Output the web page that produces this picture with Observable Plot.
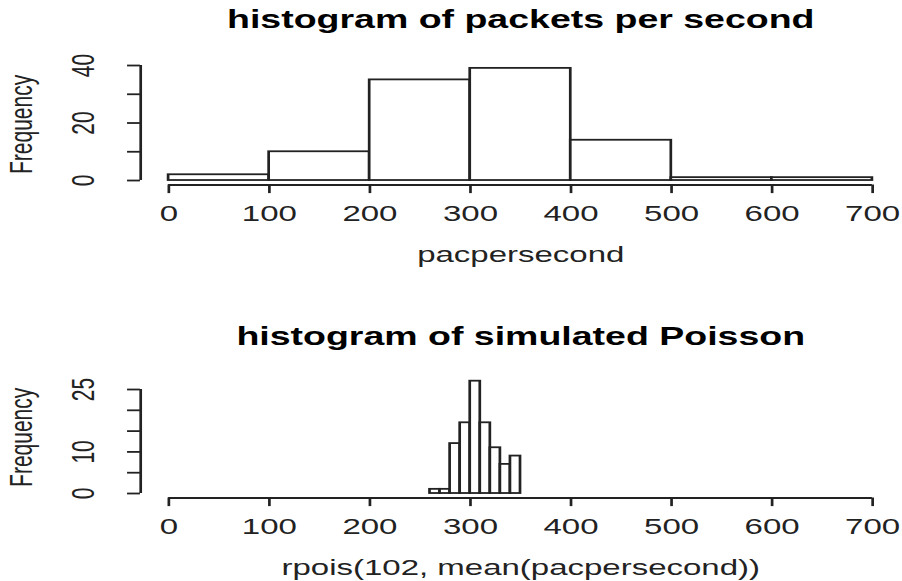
<!DOCTYPE html>
<html>
<head>
<meta charset="utf-8">
<script src="https://cdn.jsdelivr.net/npm/d3@7"></script>
<script src="https://cdn.jsdelivr.net/npm/@observablehq/plot@0.6"></script>
<style>
  html, body { margin: 0; padding: 0; background: #fff; }
  #chart svg { display: block; }
</style>
</head>
<body>
<div id="chart"></div>
<script>
// ---- data ----
const topTitle = "histogram of packets per second";
const topXLabel = "pacpersecond";
const topBreaks = [0, 100, 200, 300, 400, 500, 600, 700];
const topCounts = [2, 10, 35, 39, 14, 1, 1];
const topYTicks = [0, 10, 20, 30, 40];
const topYLabels = [0, 20, 40];

const simTitle = "histogram of simulated Poisson";
const simXLabel = "rpois(102, mean(pacpersecond))";
const simBreaks = [260, 270, 280, 290, 300, 310, 320, 330, 340, 350];
const simCounts = [1, 1, 12, 17, 27, 17, 11, 7, 9];
const simYTicks = [0, 5, 10, 15, 20, 25];
const simYLabels = [0, 10, 25];

const xTicks = [0, 100, 200, 300, 400, 500, 600, 700];
const yAxisLabel = "Frequency";

// ---- layout ----
const STRETCH = 1.5;          // reference image is stretched horizontally
const OUT_W = 902;
const W = OUT_W / STRETCH;    // natural drawing width
const INK = "#222";
const FONT = "Liberation Sans, Arial, Helvetica, sans-serif";
const FS = 21;
const TICK = 8.6;

function pad(lo, hi) { const d = (hi - lo) * 0.04; return [lo - d, hi + d]; }

function hist({title, xlabel, breaks, counts, yTicks, yLabels, height, marginTop, marginBottom, titleDy}) {
  const bins = counts.map((c, i) => ({x0: breaks[i], x1: breaks[i + 1], count: c}));
  const xDom = pad(xTicks[0], xTicks[xTicks.length - 1]);
  const yDom = pad(0, d3.max(counts));
  const svg = Plot.plot({
    width: W,
    height,
    marginLeft: 93.3,
    marginRight: 1.3,
    marginTop,
    marginBottom,
    style: {fontFamily: FONT, background: "#fff", color: INK},
    x: {domain: xDom, label: null},
    y: {domain: yDom, label: null},
    marks: [
      Plot.rectY(bins, {x1: "x0", x2: "x1", y: "count", fill: "#fff", stroke: INK, strokeWidth: 1.8}),
      Plot.ruleY([yDom[0]], {x1: xTicks[0], x2: xTicks[xTicks.length - 1], stroke: INK, strokeWidth: 1.8}),
      Plot.ruleX([xDom[0]], {y1: yTicks[0], y2: yTicks[yTicks.length - 1], stroke: INK, strokeWidth: 1.8}),
      Plot.axisX({ticks: xTicks, tickSize: TICK, tickPadding: 11.5, fontSize: FS + 1, label: null, stroke: INK, strokeWidth: 1.8, color: INK}),
      Plot.axisY({ticks: yTicks, tickSize: TICK, tickFormat: () => "", label: null, stroke: INK, strokeWidth: 1.8}),
      Plot.text(yLabels, {y: d => d, text: d => String(d), frameAnchor: "left", dx: -38, rotate: -90, fontSize: FS, fill: INK, textAnchor: "middle", lineAnchor: "middle"}),
      Plot.text([yAxisLabel], {text: d => d, frameAnchor: "left", dx: -79, rotate: -90, fontSize: FS, fill: INK, textAnchor: "middle", lineAnchor: "middle"}),
      Plot.text([title], {text: d => d, frameAnchor: "top", dy: titleDy, lineAnchor: "top", fontSize: 25, fontWeight: "bold", fill: "#000"}),
      Plot.text([xlabel], {text: d => d, frameAnchor: "bottom", dy: 61, lineAnchor: "top", fontSize: FS + 1, fill: INK})
    ]
  });
  svg.setAttribute("width", OUT_W);
  svg.setAttribute("height", height);
  svg.setAttribute("viewBox", `0 0 ${W} ${height}`);
  svg.setAttribute("preserveAspectRatio", "none");
  svg.style.width = OUT_W + "px";
  svg.style.height = height + "px";
  svg.style.maxWidth = "none";
  return svg;
}

const chart = document.getElementById("chart");
chart.appendChild(hist({
  title: topTitle, xlabel: topXLabel, breaks: topBreaks, counts: topCounts,
  yTicks: topYTicks, yLabels: topYLabels,
  height: 300, marginTop: 63.4, marginBottom: 115.5, titleDy: -54
}));
chart.appendChild(hist({
  title: simTitle, xlabel: simXLabel, breaks: simBreaks, counts: simCounts,
  yTicks: simYTicks, yLabels: simYLabels,
  height: 281, marginTop: 76.2, marginBottom: 83.5, titleDy: -49
}));
</script>
</body>
</html>
